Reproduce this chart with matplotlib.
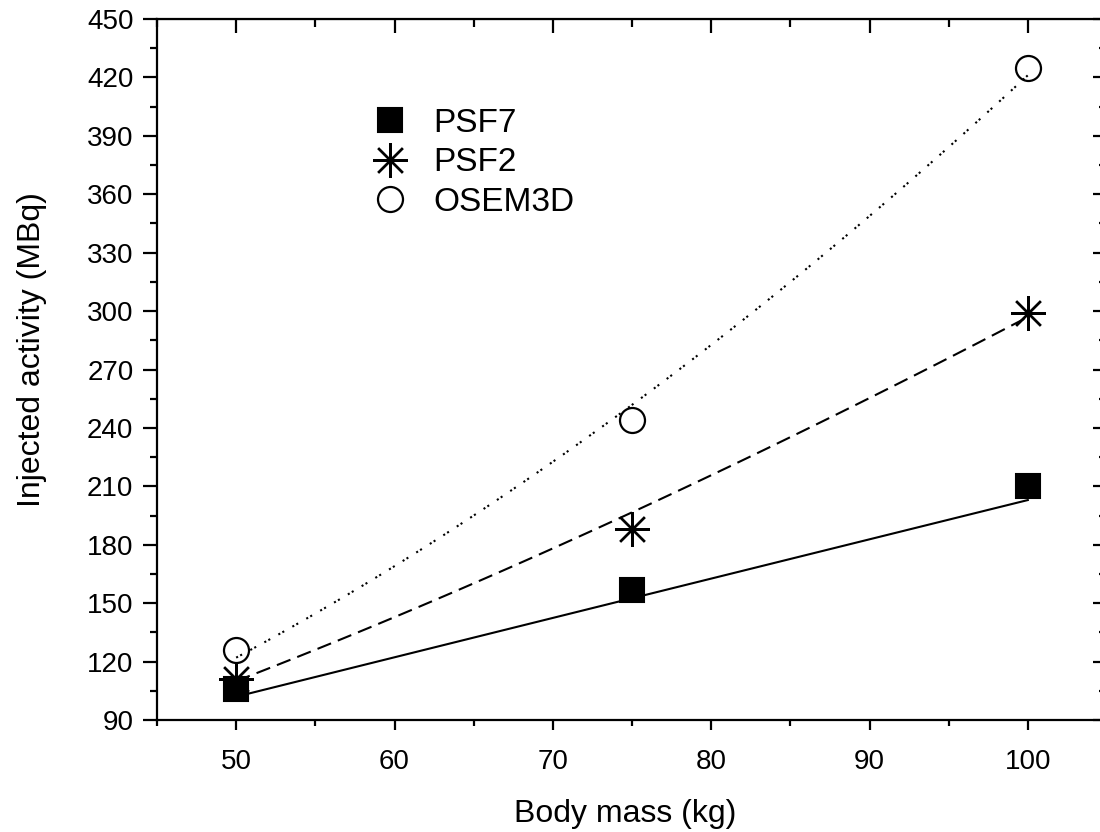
import numpy as np
import matplotlib
matplotlib.use('Agg')
import matplotlib.pyplot as plt
from matplotlib.lines import Line2D
import matplotlib.ticker as plticker

plt.rcParams['font.family'] = ['Liberation Sans', 'DejaVu Sans']

# body mass (kg) and injected activity (MBq)
mass = [50, 75, 100]
psf7 = [106, 157, 210]
psf2 = [111, 188, 299]
osem3d = [126, 244, 425]

# power-law fit lines y = a * x^b, as drawn in the figure
fit_a = [2.096, 0.4043, 0.1123]   # PSF7, PSF2, OSEM3D
fit_b = [0.993, 1.433, 1.787]

fig = plt.figure(figsize=(11, 8.32), dpi=100)
ax = fig.add_axes([157/1100, 112/832, 950/1100, 701/832])

xf = np.linspace(mass[0], mass[-1], 100)
styles = [dict(ls='-'), dict(ls=(0, (7, 3.5))), dict(ls=(0, (1, 1.2, 1, 4.5)))]
for a, b, st in zip(fit_a, fit_b, styles):
	ax.plot(xf, a * xf**b, color='black', lw=1.5, zorder=2, **st)

ax.plot(mass, osem3d, ls='none', marker='o', ms=18, mfc='none', mec='black', mew=1.6, zorder=3)
ax.plot(mass, psf2, ls='none', marker=(8, 2, 0), ms=25, mec='black', mew=1.7, zorder=4)
ax.plot(mass, psf7, ls='none', marker='s', ms=17, mfc='black', mec='black', mew=1.5, zorder=5)

ax.set_xlim(45, 105)
ax.set_ylim(90, 450)
ax.xaxis.set_major_locator(plticker.MultipleLocator(10))
ax.xaxis.set_minor_locator(plticker.MultipleLocator(5))
ax.yaxis.set_major_locator(plticker.MultipleLocator(30))
ax.yaxis.set_minor_locator(plticker.MultipleLocator(15))

for s in ax.spines.values():
	s.set_linewidth(1.6)
ax.tick_params(axis='x', which='major', direction='out', length=7, width=1.6, pad=14, labelsize=20)
ax.tick_params(axis='x', which='minor', direction='out', length=4, width=1.6)
ax.tick_params(axis='y', which='major', direction='out', length=10, width=1.6, pad=7, labelsize=20)
ax.tick_params(axis='y', which='minor', direction='out', length=5, width=1.6)

# inward ticks on top and right
top = ax.secondary_xaxis('top')
top.xaxis.set_major_locator(plticker.MultipleLocator(10))
top.xaxis.set_minor_locator(plticker.MultipleLocator(5))
top.tick_params(which='major', direction='in', length=10, width=1.6, labeltop=False)
top.tick_params(which='minor', direction='in', length=6, width=1.6)
right = ax.secondary_yaxis('right')
right.yaxis.set_major_locator(plticker.MultipleLocator(30))
right.yaxis.set_minor_locator(plticker.MultipleLocator(15))
right.tick_params(which='major', direction='in', length=10, width=1.6, labelright=False)
right.tick_params(which='minor', direction='in', length=6, width=1.6)

ax.set_xlabel("Body mass (kg)", fontsize=23)
ax.set_ylabel("Injected activity (MBq)", fontsize=23)
ax.xaxis.set_label_coords(0.4926, -0.113)
ax.yaxis.set_label_coords(-0.116, 0.529)

handles = [
	Line2D([], [], ls='none', marker='s', ms=17, mfc='black', mec='black', mew=1.5),
	Line2D([], [], ls='none', marker=(8, 2, 0), ms=25, mec='black', mew=1.7),
	Line2D([], [], ls='none', marker='o', ms=18, mfc='none', mec='black', mew=1.6),
]
ax.legend(handles, ['PSF7', 'PSF2', 'OSEM3D'], loc='upper left', bbox_to_anchor=(0.2274, 0.873),
	frameon=False, fontsize=24, handlelength=1.0, handletextpad=0.8, labelspacing=0.25,
	borderpad=0, borderaxespad=0)

plt.savefig('out.png', dpi=100)
